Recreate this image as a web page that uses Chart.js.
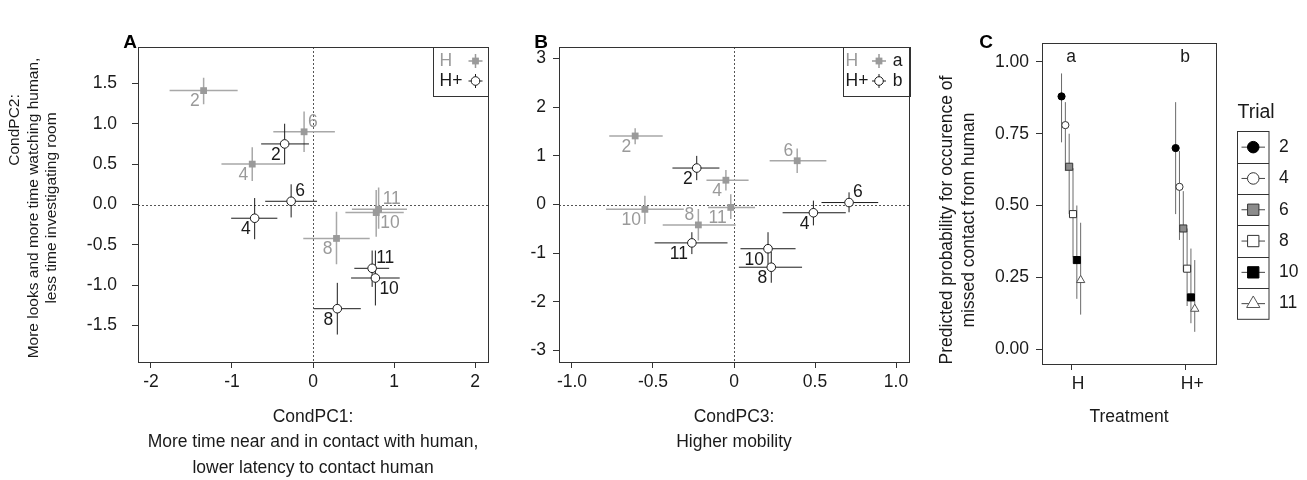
<!DOCTYPE html>
<html lang="en">
<head>
<meta charset="UTF-8" />
<title>Missed contact and CondPC scores</title>
<script src="https://cdn.jsdelivr.net/npm/chart.js"></script>
<style>
  body { margin: 0; background: #fff; width: 1307px; height: 480px; overflow: hidden; position: relative; }
  canvas { position: absolute; top: 0; }
  #chartA { left: 0; }
  #chartB { left: 500px; }
  #chartC { left: 920px; }
</style>
</head>
<body>
<canvas id="chartA" width="500" height="480"></canvas>
<canvas id="chartB" width="420" height="480"></canvas>
<canvas id="chartC" width="387" height="480"></canvas>
<script>
// trial numbers, same order in every array below
const trials = ['2', '4', '6', '8', '10', '11'];

// CondPC1 (panel A, x)
const pc1H     = [-1.35, -0.75, -0.11,  0.29,  0.78,  0.81];
const pc1HLo   = [-1.77, -1.13, -0.49, -0.12,  0.40,  0.48];
const pc1HHi   = [-0.93, -0.35,  0.27,  0.70,  1.12,  1.16];
const pc1Hp    = [-0.35, -0.72, -0.27,  0.30,  0.77,  0.73];
const pc1HpLo  = [-0.64, -1.01, -0.59,  0.01,  0.47,  0.51];
const pc1HpHi  = [-0.05, -0.44,  0.05,  0.59,  1.07,  0.94];

// CondPC2 (panels A and B, y)
const pc2H     = [ 1.41,  0.50,  0.90, -0.42, -0.10, -0.06];
const pc2HLo   = [ 1.24,  0.29,  0.65, -0.74, -0.40, -0.30];
const pc2HHi   = [ 1.57,  0.71,  1.15, -0.09,  0.18,  0.21];
const pc2Hp    = [ 0.75, -0.17,  0.04, -1.29, -0.91, -0.79];
const pc2HpLo  = [ 0.50, -0.43, -0.16, -1.61, -1.25, -1.02];
const pc2HpHi  = [ 1.00,  0.08,  0.25, -0.97, -0.57, -0.57];

// CondPC3 (panel B, x)
const pc3H     = [-0.61, -0.05,  0.39, -0.22, -0.55, -0.02];
const pc3HLo   = [-0.77, -0.17,  0.22, -0.44, -0.79, -0.16];
const pc3HHi   = [-0.44,  0.09,  0.57,  0.01, -0.31,  0.13];
const pc3Hp    = [-0.23,  0.49,  0.71,  0.23,  0.21, -0.26];
const pc3HpLo  = [-0.38,  0.30,  0.54,  0.03,  0.04, -0.49];
const pc3HpHi  = [-0.09,  0.69,  0.89,  0.42,  0.38, -0.04];

// predicted probability of missed contact (panel C)
const treatments = ['H', 'H+'];
const groupMarks = ['a', 'b'];
const probH    = [0.88, 0.78, 0.635, 0.47, 0.31, 0.24];
const probHLo  = [0.72, 0.62, 0.47, 0.32, 0.175, 0.12];
const probHHi  = [0.96, 0.86, 0.75, 0.63, 0.50, 0.44];
const probHp   = [0.70, 0.565, 0.42, 0.28, 0.18, 0.14];
const probHpLo = [0.47, 0.38, 0.27, 0.15, 0.09, 0.06];
const probHpHi = [0.86, 0.69, 0.55, 0.42, 0.35, 0.31];

// tick values and labels
const aXTicks = [-2, -1, 0, 1, 2];
const aXLabels = ['-2', '-1', '0', '1', '2'];
const aYTicks = [-1.5, -1, -0.5, 0, 0.5, 1, 1.5];
const aYLabels = ['-1.5', '-1.0', '-0.5', '0.0', '0.5', '1.0', '1.5'];
const bXTicks = [-1, -0.5, 0, 0.5, 1];
const bXLabels = ['-1.0', '-0.5', '0', '0.5', '1.0'];
const bYTicks = [-3, -2, -1, 0, 1, 2, 3];
const bYLabels = ['-3', '-2', '-1', '0', '1', '2', '3'];
const cYTicks = [0, 0.25, 0.5, 0.75, 1];
const cYLabels = ['0.00', '0.25', '0.50', '0.75', '1.00'];

// where each point's trial number sits (bl = below left etc.)
const aPosH  = ['bl', 'bl', 'tr', 'bl', 'br', 'tr'];
const aPosHp = ['bl', 'bl', 'tr', 'bl', 'br', 'tr'];
const bPosH  = ['bl', 'bl', 'tl', 'tl', 'bl', 'bl'];
const bPosHp = ['bl', 'bl', 'tr', 'bl', 'bl', 'bl'];

// panel C symbols per trial
const trialStyle  = ['circle', 'circle', 'rect', 'rect', 'rect', 'triangle'];
const trialFill   = ['#000000', '#ffffff', '#8c8c8c', '#ffffff', '#000000', '#ffffff'];
const trialEdge   = ['#000000', '#333333', '#333333', '#333333', '#000000', '#555555'];
const trialRadius = [3.6, 3.6, 5, 5, 5, 4.8];

const FONT = '"Liberation Sans", Arial, Helvetica, sans-serif';
const GREY = '#9a9a9a';
const INK = '#1a1a1a';
const fnt = (size, weight) => (weight || '') + ' ' + size + 'px ' + FONT;

const errorBars = {
  id: 'errorBars',
  beforeDatasetsDraw(chart) {
    const ctx = chart.ctx, xs = chart.scales.x, ys = chart.scales.y;
    ctx.save();
    chart.data.datasets.forEach(ds => {
      ctx.strokeStyle = ds.barColor;
      ctx.lineWidth = ds.barWidth || 1;
      ds.data.forEach((p, i) => {
        const px = xs.getPixelForValue(p.x), py = ys.getPixelForValue(p.y);
        ctx.beginPath();
        if (ds.xLo) {
          ctx.moveTo(xs.getPixelForValue(ds.xLo[i]), py);
          ctx.lineTo(xs.getPixelForValue(ds.xHi[i]), py);
        }
        if (ds.yLo) {
          ctx.moveTo(px, ys.getPixelForValue(ds.yLo[i]));
          ctx.lineTo(px, ys.getPixelForValue(ds.yHi[i]));
        }
        ctx.stroke();
      });
    });
    ctx.restore();
  }
};

const OFF = { bl: [-4, 11, 'right'], tl: [-4, -10, 'right'], tr: [4, -10, 'left'], br: [4, 11, 'left'] };

const pointLabels = {
  id: 'pointLabels',
  afterDatasetsDraw(chart) {
    const ctx = chart.ctx, xs = chart.scales.x, ys = chart.scales.y;
    ctx.save();
    ctx.font = fnt(17.5);
    ctx.textBaseline = 'middle';
    chart.data.datasets.forEach(ds => {
      if (!ds.labelPos) return;
      ctx.fillStyle = ds.labelColor;
      ds.data.forEach((p, i) => {
        const o = OFF[ds.labelPos[i]];
        ctx.textAlign = o[2];
        ctx.fillText(trials[i], xs.getPixelForValue(p.x) + o[0], ys.getPixelForValue(p.y) + o[1]);
      });
    });
    ctx.restore();
  }
};

const frame = {
  id: 'frame',
  beforeDatasetsDraw(chart, args, opts) {
    if (!opts.zeroLines) return;
    const { ctx, chartArea: a } = chart;
    const x0 = Math.round(chart.scales.x.getPixelForValue(0)) + 0.5;
    const y0 = Math.round(chart.scales.y.getPixelForValue(0)) + 0.5;
    ctx.save();
    ctx.strokeStyle = '#555';
    ctx.lineWidth = 1;
    ctx.setLineDash([2, 2]);
    ctx.beginPath();
    ctx.moveTo(x0, a.top); ctx.lineTo(x0, a.bottom);
    ctx.moveTo(a.left, y0); ctx.lineTo(a.right, y0);
    ctx.stroke();
    ctx.restore();
  },
  afterDraw(chart, args, opts) {
    const { ctx, chartArea: a } = chart;
    ctx.save();
    ctx.strokeStyle = '#333';
    ctx.lineWidth = 1;
    ctx.strokeRect(Math.round(a.left) + 0.5, Math.round(a.top) + 0.5,
      Math.round(a.right - a.left), Math.round(a.bottom - a.top));

    // panel letter
    ctx.fillStyle = '#000';
    ctx.font = fnt(19, 'bold');
    ctx.textAlign = 'center';
    ctx.textBaseline = 'middle';
    ctx.fillText(opts.letter, opts.letterX, 43);

    // axis titles
    ctx.font = fnt(17.5);
    ctx.fillStyle = INK;
    const cx = (a.left + a.right) / 2;
    (opts.xTitle || []).forEach((t, i) => ctx.fillText(t, cx, 417 + i * 25.5));
    ctx.font = fnt(opts.yTitleSize || 17.5);
    (opts.yTitle || []).forEach((t, i) => {
      ctx.save();
      ctx.translate(opts.yTitleX[i], opts.yTitleY[i]);
      ctx.rotate(-Math.PI / 2);
      ctx.fillText(t, 0, 0);
      ctx.restore();
    });
    ctx.restore();
  }
};

// the H / H+ key in panels A and B
const keyAB = {
  id: 'keyAB',
  afterDraw(chart, args, opts) {
    const { ctx, chartArea: a } = chart;
    const left = a.right - opts.width;
    ctx.save();
    ctx.strokeStyle = '#333';
    ctx.lineWidth = 1;
    ctx.strokeRect(Math.round(left) + 0.5, Math.round(a.top) + 0.5, Math.round(opts.width), 49);
    ctx.font = fnt(17.5);
    ctx.textBaseline = 'middle';
    ctx.textAlign = 'left';
    const rows = [
      { text: 'H', color: GREY, y: a.top + 14, style: 'rect', r: 4.8, fill: GREY, edge: GREY, bar: GREY, bw: 1.5 },
      { text: 'H+', color: INK, y: a.top + 34, style: 'circle', r: 4.3, fill: '#fff', edge: INK, bar: INK, bw: 1 }
    ];
    rows.forEach((r, i) => {
      ctx.fillStyle = r.color;
      ctx.fillText(r.text, left + opts.textDx, r.y);
      const sx = left + opts.symDx;
      ctx.strokeStyle = r.bar;
      ctx.lineWidth = r.bw;
      ctx.beginPath();
      ctx.moveTo(sx - 7, r.y); ctx.lineTo(sx + 7, r.y);
      ctx.moveTo(sx, r.y - 7); ctx.lineTo(sx, r.y + 7);
      ctx.stroke();
      ctx.fillStyle = r.fill;
      ctx.strokeStyle = r.edge;
      ctx.lineWidth = 1;
      Chart.helpers.drawPoint(ctx, { pointStyle: r.style, radius: r.r, rotation: 0, borderWidth: r.style === 'rect' ? 0 : 1 }, sx, r.y);
      if (opts.marks) {
        ctx.fillStyle = INK;
        ctx.textAlign = 'center';
        ctx.fillText(opts.marks[i], left + opts.markDx, r.y);
        ctx.textAlign = 'left';
      }
    });
    ctx.restore();
  }
};

function linScale(min, max, ticks, labels, isX, fixed, pad) {
  return {
    type: 'linear',
    min: min,
    max: max,
    afterBuildTicks: s => { s.ticks = ticks.map(v => ({ value: v })); },
    afterFit: s => { if (isX) s.height = fixed; else s.width = fixed; },
    ticks: {
      callback: (v, i) => labels[i],
      font: { family: FONT, size: 17.5 },
      color: INK,
      padding: pad,
      maxRotation: 0,
      autoSkip: false
    },
    grid: { drawOnChartArea: false, drawTicks: true, tickLength: 6, tickColor: '#333', color: '#333' },
    border: { display: false }
  };
}

const baseOptions = {
  responsive: false,
  animation: false,
  events: [],
  plugins: { legend: { display: false }, tooltip: { enabled: false } }
};

function abDatasets(xH, xHLo, xHHi, xHp, xHpLo, xHpHi, posH, posHp) {
  return [
    {
      label: 'H',
      data: xH.map((x, i) => ({ x: x, y: pc2H[i] })),
      xLo: xHLo, xHi: xHHi, yLo: pc2HLo, yHi: pc2HHi,
      pointStyle: 'rect', pointRadius: 4.8, borderWidth: 0,
      backgroundColor: GREY, borderColor: GREY,
      barColor: '#a8a8a8', barWidth: 1.5,
      labelColor: GREY, labelPos: posH
    },
    {
      label: 'H+',
      data: xHp.map((x, i) => ({ x: x, y: pc2Hp[i] })),
      xLo: xHpLo, xHi: xHpHi, yLo: pc2HpLo, yHi: pc2HpHi,
      pointStyle: 'circle', pointRadius: 4.3, borderWidth: 1,
      backgroundColor: '#ffffff', borderColor: INK,
      barColor: INK, barWidth: 1,
      labelColor: INK, labelPos: posHp
    }
  ];
}

new Chart(document.getElementById('chartA'), {
  type: 'scatter',
  data: { datasets: abDatasets(pc1H, pc1HLo, pc1HHi, pc1Hp, pc1HpLo, pc1HpHi, aPosH, aPosHp) },
  options: Object.assign({}, baseOptions, {
    layout: { padding: { top: 47, right: 12, left: 0, bottom: 0 } },
    scales: {
      x: linScale(-2.16, 2.16, aXTicks, aXLabels, true, 118, 4),
      y: linScale(-1.95, 1.95, aYTicks, aYLabels, false, 138, 15)
    },
    plugins: Object.assign({}, baseOptions.plugins, {
      frame: {
        letter: 'A', letterX: 130, zeroLines: true,
        xTitle: ['CondPC1:', 'More time near and in contact with human,', 'lower latency to contact human'],
        yTitle: ['CondPC2:', 'More looks and more time watching human,', 'less time investigating room'],
        yTitleX: [15, 33.5, 52],
        yTitleY: [130, 208, 208],
        yTitleSize: 15.5
      },
      keyAB: { width: 55, textDx: 6.5, symDx: 42.5 }
    })
  }),
  plugins: [frame, errorBars, pointLabels, keyAB]
});

new Chart(document.getElementById('chartB'), {
  type: 'scatter',
  data: { datasets: abDatasets(pc3H, pc3HLo, pc3HHi, pc3Hp, pc3HpLo, pc3HpHi, bPosH, bPosHp) },
  options: Object.assign({}, baseOptions, {
    layout: { padding: { top: 47, right: 11, left: 0, bottom: 0 } },
    scales: {
      x: linScale(-1.08, 1.08, bXTicks, bXLabels, true, 118, 4),
      y: linScale(-3.24, 3.24, bYTicks, bYLabels, false, 59, 7)
    },
    plugins: Object.assign({}, baseOptions.plugins, {
      frame: {
        letter: 'B', letterX: 41, zeroLines: true,
        xTitle: ['CondPC3:', 'Higher mobility']
      },
      keyAB: { width: 66.5, textDx: 3, symDx: 36.5, marks: groupMarks, markDx: 55 }
    })
  }),
  plugins: [frame, errorBars, pointLabels, keyAB]
});

// panel C: one dataset per trial, dodged sideways inside each treatment
const dodge = i => (i - 2.5) * 0.0335;

const trialKey = {
  id: 'trialKey',
  afterDraw(chart) {
    const { ctx } = chart;
    ctx.save();
    // group letters above each treatment
    ctx.font = fnt(17.5);
    ctx.fillStyle = INK;
    ctx.textAlign = 'center';
    ctx.textBaseline = 'middle';
    groupMarks.forEach((m, i) => {
      ctx.fillText(m, chart.scales.x.getPixelForValue(i + 1), chart.scales.y.getPixelForValue(1.015));
    });
    // Trial legend
    const left = 317.5, top = 131.5, w = 31.5, rowH = 31.3;
    ctx.font = fnt(19.5);
    ctx.textAlign = 'left';
    ctx.fillText('Trial', left, 113);
    ctx.strokeStyle = '#333';
    ctx.lineWidth = 1;
    ctx.strokeRect(left, top, w, rowH * trials.length);
    ctx.font = fnt(17.5);
    trials.forEach((t, i) => {
      const y = top + rowH * (i + 0.5);
      if (i > 0) {
        ctx.strokeStyle = '#333';
        ctx.beginPath();
        ctx.moveTo(left, Math.round(top + rowH * i) + 0.5);
        ctx.lineTo(left + w, Math.round(top + rowH * i) + 0.5);
        ctx.stroke();
      }
      ctx.strokeStyle = '#444';
      ctx.beginPath();
      ctx.moveTo(left + 4, y); ctx.lineTo(left + w - 4, y);
      ctx.stroke();
      ctx.fillStyle = trialFill[i];
      ctx.strokeStyle = trialEdge[i];
      Chart.helpers.drawPoint(ctx, { pointStyle: trialStyle[i], radius: trialRadius[i] * 1.6, rotation: 0, borderWidth: 1 }, left + w / 2, y);
      ctx.fillStyle = INK;
      ctx.fillText(t, left + w + 10, y);
    });
    ctx.restore();
  }
};

const xC = linScale(0.745, 2.27, [1, 2], treatments, true, 116, 4);
xC.ticks.labelOffset = 7;

new Chart(document.getElementById('chartC'), {
  type: 'scatter',
  data: {
    datasets: trials.map((t, i) => ({
      label: t,
      data: [{ x: 1 + dodge(i), y: probH[i] }, { x: 2 + dodge(i), y: probHp[i] }],
      yLo: [probHLo[i], probHpLo[i]],
      yHi: [probHHi[i], probHpHi[i]],
      pointStyle: trialStyle[i], pointRadius: trialRadius[i], borderWidth: 1,
      backgroundColor: trialFill[i], borderColor: trialEdge[i],
      barColor: '#6a6a6a', barWidth: 1
    }))
  },
  options: Object.assign({}, baseOptions, {
    layout: { padding: { top: 43, right: 91, left: 0, bottom: 0 } },
    scales: {
      x: xC,
      y: linScale(-0.052, 1.066, cYTicks, cYLabels, false, 122, 7)
    },
    plugins: Object.assign({}, baseOptions.plugins, {
      frame: {
        letter: 'C', letterX: 66,
        xTitle: ['Treatment'],
        yTitle: ['Predicted probability for occurence of', 'missed contact from human'],
        yTitleX: [27.5, 49.5],
        yTitleY: [220, 220],
        yTitleSize: 17.5
      }
    })
  }),
  plugins: [frame, errorBars, trialKey]
});
</script>
</body>
</html>
